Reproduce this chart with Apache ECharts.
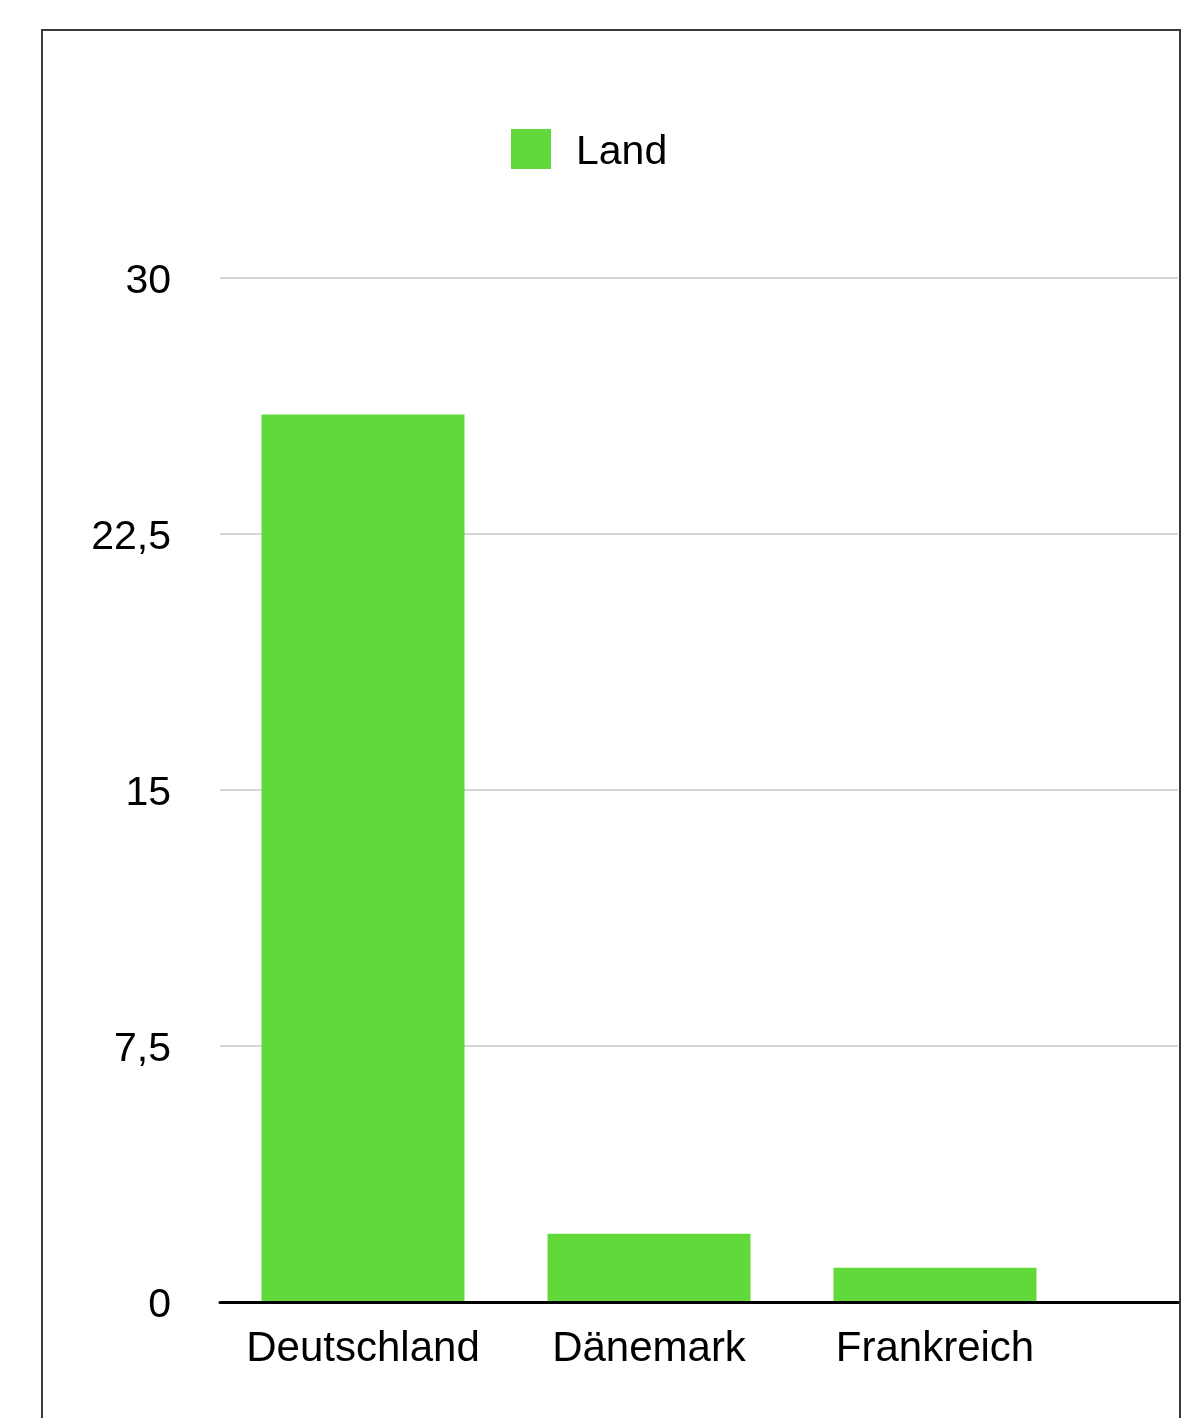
<!DOCTYPE html>
<html>
<head>
<meta charset="utf-8">
<script src="https://cdn.jsdelivr.net/npm/echarts@6/dist/echarts.min.js"></script>
<style>
html,body{margin:0;padding:0;background:#fff;}
#chart{width:1194px;height:1418px;}
</style>
</head>
<body>
<div id="chart"></div>
<script>
const categories = ['Deutschland', 'Dänemark', 'Frankreich'];
const seriesName = 'Land';
const values = [26, 2, 1];
const yMin = 0, yMax = 30, yInterval = 7.5;

const FONT = "'Liberation Sans', Arial, Helvetica, sans-serif";
const chart = echarts.init(document.getElementById('chart'));
chart.setOption({
  backgroundColor: '#fff',
  animation: false,
  textStyle: { fontFamily: FONT },
  graphic: [{
    type: 'rect',
    shape: { x: 42, y: 30, width: 1138, height: 1420 },
    style: { fill: 'none', stroke: '#3a3a3a', lineWidth: 2 },
    z: -1
  }],
  legend: {
    data: [seriesName],
    left: 511, top: 129, padding: 0,
    itemWidth: 40, itemHeight: 48,
    icon: 'path://M0,0L40,0L40,40L0,40Z M0,47.9L0.01,48L0,48Z',
    textStyle: { fontSize: 41, color: '#000', fontFamily: FONT, padding: [0, 0, 0, 20] }
  },
  grid: [
    { left: 220, right: 16, top: 278, bottom: 116, containLabel: false },
    { left: 220, width: 858, top: 278, bottom: 116, containLabel: false }
  ],
  xAxis: [
    { gridIndex: 0, type: 'category', data: [''], z: 5,
      axisLine: { show: true, lineStyle: { color: '#000', width: 3 } },
      axisTick: { show: false }, axisLabel: { show: false }, splitLine: { show: false } },
    { gridIndex: 1, type: 'category', data: categories,
      axisLine: { show: false }, axisTick: { show: false },
      axisLabel: { fontSize: 42, color: '#000', margin: 26, fontFamily: FONT, interval: 0 } }
  ],
  yAxis: [
    { gridIndex: 0, type: 'value', min: yMin, max: yMax, interval: yInterval,
      axisLine: { show: false }, axisTick: { show: false },
      axisLabel: { color: '#000', margin: 49, fontFamily: FONT,
        formatter: v => '{t|' + String(v).replace('.', ',') + '}',
        rich: { t: { fontSize: 41, color: '#000', fontFamily: FONT, padding: [8, 0, 0, 0] } } },
      splitLine: { show: true, lineStyle: { color: '#d4d4d4', width: 2 } } },
    { gridIndex: 1, type: 'value', min: yMin, max: yMax, interval: yInterval, show: false,
      splitLine: { show: false } }
  ],
  series: [{
    name: seriesName,
    type: 'bar',
    xAxisIndex: 1, yAxisIndex: 1,
    data: values,
    barWidth: 203,
    itemStyle: { color: '#61d93a' }
  }]
});
</script>
</body>
</html>
